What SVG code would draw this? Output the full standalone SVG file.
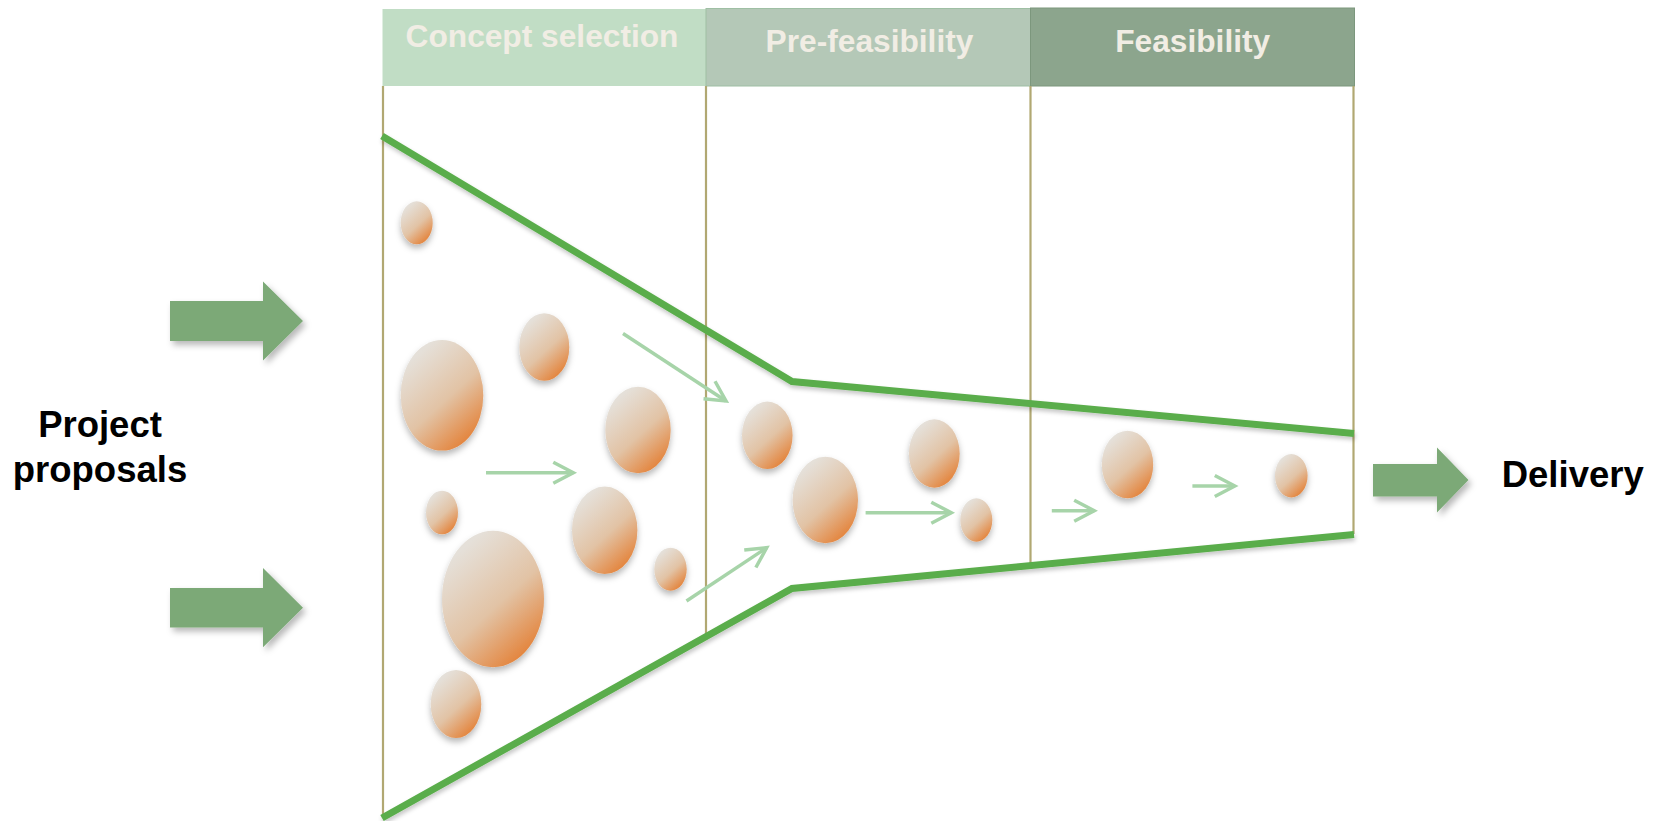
<svg xmlns="http://www.w3.org/2000/svg" width="1657" height="821" viewBox="0 0 1657 821">
  <defs>
    <linearGradient id="bubbleFill" x1="0.25" y1="0.1" x2="0.85" y2="0.98">
      <stop offset="0" stop-color="#e5e0d9"/>
      <stop offset="0.5" stop-color="#e2c3a5"/>
      <stop offset="1" stop-color="#e4792a"/>
    </linearGradient>
    <filter id="softShadow" x="-30%" y="-30%" width="160%" height="170%">
      <feDropShadow dx="0" dy="4" stdDeviation="3" flood-color="#000" flood-opacity="0.28"/>
    </filter>
    <filter id="lineShadow" x="-5%" y="-10%" width="110%" height="125%">
      <feDropShadow dx="1" dy="3" stdDeviation="2" flood-color="#000" flood-opacity="0.22"/>
    </filter>
    <filter id="arrowShadow" x="-20%" y="-20%" width="150%" height="160%">
      <feDropShadow dx="3" dy="4" stdDeviation="3" flood-color="#000" flood-opacity="0.28"/>
    </filter>
    <marker id="chevron" markerUnits="userSpaceOnUse" markerWidth="30" markerHeight="30" viewBox="-25 -15 30 30" refX="0" refY="0" orient="auto">
      <path d="M-20,-10.5 L0,0 L-20,10.5" fill="none" stroke="#a7d4a9" stroke-width="3.5"/>
    </marker>
  </defs>
  <style>
    .phase-label { font-family: "Liberation Sans", Arial, sans-serif; font-weight: bold; font-size: 31.7px; fill: #f1ede4; text-anchor: middle; }
    .side-label { font-family: "Liberation Sans", Arial, sans-serif; font-weight: bold; font-size: 36.5px; fill: #000; }
    .frame { stroke: #b1a872; stroke-width: 2.2; fill: none; }
    .funnel { stroke: #5aad4b; stroke-width: 7; fill: none; stroke-linejoin: miter; filter: url(#lineShadow); }
    .bubble { fill: url(#bubbleFill); filter: url(#softShadow); }
    .big-arrow { fill: #7ca977; filter: url(#arrowShadow); }
    .flow { stroke: #a7d4a9; stroke-width: 3.5; fill: none; marker-end: url(#chevron); }
  </style>

  <rect width="1657" height="821" fill="#ffffff"/>

  <!-- phase headers -->
  <g id="phase-concept">
    <rect x="382.5" y="9" width="323.5" height="77" fill="#c1ddc5"/>
    <text class="phase-label" x="542" y="46.7">Concept selection</text>
  </g>
  <g id="phase-prefeasibility">
    <rect x="706" y="8.5" width="324.5" height="77.5" fill="#b4c8b7" stroke="#9fbfa4" stroke-width="1"/>
    <text class="phase-label" x="869.5" y="51.7">Pre-feasibility</text>
  </g>
  <g id="phase-feasibility">
    <rect x="1030.5" y="8" width="324" height="78" fill="#8ca58d" stroke="#7c977d" stroke-width="1"/>
    <text class="phase-label" x="1192.7" y="51.7">Feasibility</text>
  </g>

  <!-- phase frame lines -->
  <g id="frame-lines">
    <line class="frame" x1="383" y1="86" x2="383" y2="818"/>
    <line class="frame" x1="706" y1="86" x2="706" y2="636"/>
    <line class="frame" x1="1030.5" y1="86" x2="1030.5" y2="565"/>
    <line class="frame" x1="1353.5" y1="86" x2="1353.5" y2="534"/>
  </g>

  <!-- funnel outline -->
  <g id="funnel">
    <polyline class="funnel" points="382,136 792,381.5 1354,433.5"/>
    <polyline class="funnel" points="382,818 792,588.5 1354,534.5"/>
  </g>

  <!-- proposals (bubbles) -->
  <g id="bubble-1"><ellipse class="bubble" cx="416.7" cy="222.8" rx="16" ry="21.5"/></g>
  <g id="bubble-2"><ellipse class="bubble" cx="442" cy="395.3" rx="41.3" ry="55.3"/></g>
  <g id="bubble-3"><ellipse class="bubble" cx="544.3" cy="347" rx="25" ry="33.7"/></g>
  <g id="bubble-4"><ellipse class="bubble" cx="638" cy="430" rx="32.7" ry="43.3"/></g>
  <g id="bubble-5"><ellipse class="bubble" cx="442" cy="512.5" rx="16" ry="21.8"/></g>
  <g id="bubble-6"><ellipse class="bubble" cx="604.7" cy="530.3" rx="32.7" ry="43.7"/></g>
  <g id="bubble-7"><ellipse class="bubble" cx="670.5" cy="569.2" rx="16.2" ry="21.5"/></g>
  <g id="bubble-8"><ellipse class="bubble" cx="493" cy="599" rx="51" ry="68.3"/></g>
  <g id="bubble-9"><ellipse class="bubble" cx="456" cy="704" rx="25.3" ry="34"/></g>
  <g id="bubble-10"><ellipse class="bubble" cx="767.3" cy="435.3" rx="25.3" ry="33.7"/></g>
  <g id="bubble-11"><ellipse class="bubble" cx="825.3" cy="500" rx="32.7" ry="43.3"/></g>
  <g id="bubble-12"><ellipse class="bubble" cx="934.3" cy="453.5" rx="25.4" ry="34.2"/></g>
  <g id="bubble-13"><ellipse class="bubble" cx="976.3" cy="520" rx="16" ry="21.7"/></g>
  <g id="bubble-14"><ellipse class="bubble" cx="1127.5" cy="464.5" rx="25.7" ry="33.8"/></g>
  <g id="bubble-15"><ellipse class="bubble" cx="1291.3" cy="475.7" rx="16.3" ry="21.7"/></g>

  <!-- flow arrows between stages -->
  <g id="connectors">
    <line class="flow" x1="623" y1="333.5" x2="726" y2="401"/>
    <line class="flow" x1="486" y1="472.7" x2="573.3" y2="472.7"/>
    <line class="flow" x1="686.5" y1="601" x2="766.7" y2="547.7"/>
    <line class="flow" x1="865.6" y1="512.7" x2="951.3" y2="512.7"/>
    <line class="flow" x1="1051.8" y1="510.7" x2="1094.2" y2="510.7"/>
    <line class="flow" x1="1192.4" y1="486" x2="1234.8" y2="486"/>
  </g>

  <!-- inputs -->
  <g id="input-arrow-top">
    <polygon class="big-arrow" points="170,301 263,301 263,281.5 303,321 263,360.5 263,341 170,341"/>
  </g>
  <g id="input-arrow-bottom">
    <polygon class="big-arrow" points="170,588 263,588 263,568 303,607.7 263,647.3 263,627.5 170,627.5"/>
  </g>
  <g id="label-proposals">
    <text class="side-label" x="100" y="436.7" text-anchor="middle">Project</text>
    <text class="side-label" x="100" y="481.5" text-anchor="middle">proposals</text>
  </g>

  <!-- output -->
  <g id="output-arrow">
    <polygon class="big-arrow" points="1373,464 1437,464 1437,447.5 1468.5,480 1437,512.5 1437,496.5 1373,496.5"/>
  </g>
  <g id="label-delivery">
    <text class="side-label" x="1501.7" y="487">Delivery</text>
  </g>
</svg>
